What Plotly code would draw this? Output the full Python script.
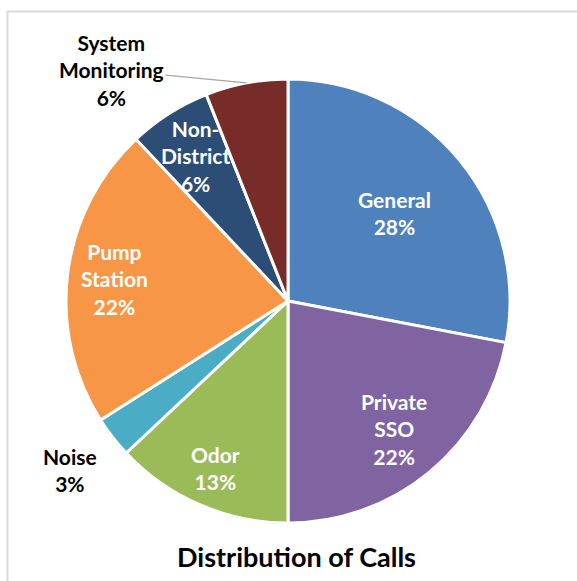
import math
import plotly.graph_objects as go

# Call categories, clockwise from 12 o'clock
categories = ["General", "Private SSO", "Odor", "Noise", "Pump Station",
              "Non-District", "System Monitoring"]
display_names = ["General", "Private<br>SSO", "Odor", "Noise", "Pump<br>Station",
                 "Non-<br>District", "System<br>Monitoring"]
shares = [28, 22, 13, 3, 22, 6, 6]  # percent of calls

colors = ["#4F81BD", "#8064A2", "#9BBB59", "#4BACC6", "#F79646",
          "#2C4D75", "#772C2A"]
# label placement: radial distance as a fraction of the pie radius
label_radius = [0.62, 0.75, 0.82, 1.24, 0.79, 0.775, 1.0]
outside = [False, False, False, True, False, False, True]

W, H = 577, 581
cx, cy, R = 288, 301, 222  # pie centre and radius in pixels

fig = go.Figure()
fig.add_trace(go.Pie(
    labels=categories,
    values=shares,
    sort=False,
    direction="clockwise",
    rotation=0,
    marker=dict(colors=colors, line=dict(color="white", width=3)),
    textinfo="none",
    hovertemplate="%{label}: %{value}%<extra></extra>",
    domain=dict(x=[(cx - R) / W, (cx + R) / W],
                y=[1 - (cy + R) / H, 1 - (cy - R) / H]),
    showlegend=False,
))

font_family = "Lato, 'Open Sans', sans-serif"
label_size = 21
total = sum(shares)
cum = 0
annotations = []
for name, v, frac, out in zip(display_names, shares, label_radius, outside):
    mid = (cum + v / 2) / total * 2 * math.pi
    cum += v
    r = frac * R
    px = cx + r * math.sin(mid)
    py = cy - r * math.cos(mid)
    text = "<b>" + f"{name}<br>{v}%".replace("<br>", "</b><br><b>") + "</b>"
    color = "black" if out else "white"
    if name.startswith("System"):
        # leader line from the slice edge to the label
        annotations.append(dict(
            x=px / W, y=1 - py / H, xref="paper", yref="paper",
            text=text, showarrow=True, arrowhead=0, arrowwidth=1.2,
            arrowcolor="#A6A6A6", ax=-135, ay=-13,
            font=dict(family=font_family, size=label_size, color=color),
        ))
    else:
        annotations.append(dict(
            x=px / W, y=1 - py / H, xref="paper", yref="paper",
            text=text, showarrow=False, xanchor="center", yanchor="middle",
            font=dict(family=font_family, size=label_size, color=color),
        ))

annotations.append(dict(
    x=296 / W, y=1 - 556 / H, xref="paper", yref="paper",
    text="<b>Distribution of Calls</b>", showarrow=False,
    xanchor="center", yanchor="middle",
    font=dict(family=font_family, size=27, color="black"),
))

fig.update_layout(
    width=W, height=H,
    margin=dict(l=0, r=0, t=0, b=0),
    paper_bgcolor="white",
    plot_bgcolor="white",
    annotations=annotations,
    shapes=[dict(type="rect", xref="paper", yref="paper",
                 x0=7.5 / W, x1=1.05, y0=-0.05, y1=1 - 11.5 / H,
                 line=dict(color="#D9D9D9", width=2), layer="below")],
)

fig.write_html("out.html")
